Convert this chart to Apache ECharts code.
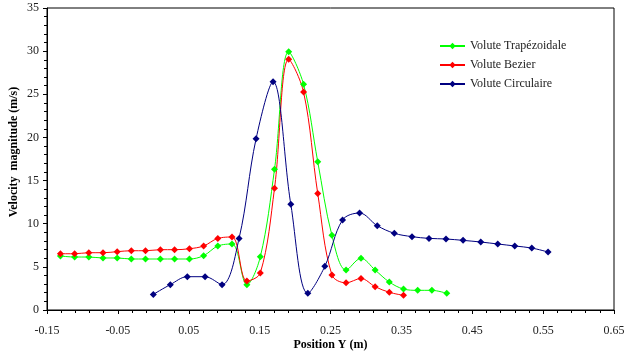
<!DOCTYPE html>
<html lang="fr">
<head>
<meta charset="UTF-8">
<title>Velocity magnitude</title>
<script src="https://cdn.jsdelivr.net/npm/echarts@6/dist/echarts.min.js"></script>
<style>
  html, body { margin: 0; padding: 0; background: #fff; }
</style>
</head>
<body>
<div id="main" style="width: 625px; height: 354px;"></div>
<script type="text/javascript">
// valeurs
var trapX = [-0.131, -0.111, -0.091, -0.071, -0.051, -0.031, -0.011, 0.010, 0.030, 0.051, 0.071, 0.091, 0.111, 0.132, 0.151, 0.171, 0.191, 0.212, 0.232, 0.252, 0.272, 0.293, 0.313, 0.333, 0.353, 0.373, 0.393, 0.414];
var trapY = [6.26, 6.14, 6.14, 6.03, 6.03, 5.91, 5.91, 5.91, 5.91, 5.91, 6.30, 7.42, 7.65, 2.94, 6.18, 16.3, 29.93, 26.15, 17.19, 8.65, 4.63, 5.99, 4.63, 3.24, 2.43, 2.28, 2.28, 1.93];

var bezX = [-0.131, -0.111, -0.091, -0.071, -0.051, -0.031, -0.011, 0.010, 0.030, 0.051, 0.071, 0.091, 0.111, 0.132, 0.151, 0.171, 0.191, 0.212, 0.232, 0.252, 0.272, 0.293, 0.313, 0.333, 0.353];
var bezY = [6.52, 6.52, 6.64, 6.64, 6.76, 6.87, 6.87, 6.99, 6.99, 7.10, 7.42, 8.30, 8.46, 3.36, 4.29, 14.1, 29.05, 25.26, 13.5, 4.07, 3.15, 3.65, 2.70, 2.05, 1.70];

var circX = [0.000, 0.024, 0.048, 0.073, 0.097, 0.121, 0.145, 0.169, 0.194, 0.218, 0.242, 0.267, 0.291, 0.316, 0.340, 0.365, 0.389, 0.413, 0.437, 0.462, 0.486, 0.510, 0.534, 0.557];
var circY = [1.81, 2.94, 3.86, 3.86, 2.94, 8.30, 19.85, 26.45, 12.25, 1.93, 5.06, 10.43, 11.24, 9.77, 8.89, 8.50, 8.30, 8.23, 8.07, 7.88, 7.65, 7.42, 7.18, 6.72];

var names = ['Volute Trapézoidale', 'Volute Bezier', 'Volute Circulaire'];
var colors = ['#00ff00', '#ff0000', '#000080'];

function pairs(xs, ys) {
    var out = [];
    for (var i = 0; i < xs.length; i++) out.push([xs[i], ys[i]]);
    return out;
}

function mkSeries(i, data) {
    return {
        name: names[i],
        type: 'line',
        data: data,
        smooth: 0.35,
        symbol: 'diamond',
        symbolSize: 7,
        color: colors[i],
        lineStyle: { width: 1, color: colors[i] },
        itemStyle: { color: colors[i] },
        animation: false
    };
}

var font = '"Liberation Serif", "Times New Roman", serif';

var myChart = echarts.init(document.getElementById('main'));
var option = {
    backgroundColor: '#fff',
    textStyle: { fontFamily: font },
    grid: {
        left: 47, right: 11, top: 8, bottom: 44,
        outerBoundsMode: 'none',
        containLabel: false,
        show: true, borderColor: '#000', borderWidth: 1
    },
    legend: {
        orient: 'vertical',
        left: 434, top: 35,
        itemWidth: 25, itemHeight: 8, itemGap: 7,
        textStyle: { fontFamily: font, fontSize: 12, color: '#222' },
        data: names
    },
    xAxis: {
        type: 'value',
        min: -0.15, max: 0.65, interval: 0.1,
        name: 'Position Y (m)',
        nameLocation: 'middle',
        nameGap: 29,
        nameMoveOverlap: false,
        nameTextStyle: { fontFamily: font, fontWeight: 'bold', fontSize: 12, color: '#000' },
        axisLine: { onZero: false, lineStyle: { color: '#000', width: 1 } },
        axisTick: { inside: false, length: 4, lineStyle: { color: '#000' } },
        minorTick: { show: true, splitNumber: 5, length: 3, lineStyle: { color: '#000' } },
        splitLine: { show: false },
        axisLabel: {
            margin: 15, fontFamily: font, fontSize: 12, color: '#222',
            formatter: function (v) { return v.toFixed(2); }
        }
    },
    yAxis: {
        type: 'value',
        min: 0, max: 35, interval: 5,
        name: 'Velocity  magnitude (m/s)',
        nameLocation: 'middle',
        nameGap: 27,
        nameMoveOverlap: false,
        nameTextStyle: { fontFamily: font, fontWeight: 'bold', fontSize: 12, color: '#000', padding: [0, 0, 0, 14] },
        axisLine: { show: true, onZero: false, lineStyle: { color: '#000', width: 1 } },
        axisTick: { show: true, inside: false, length: 4, lineStyle: { color: '#000' } },
        minorTick: { show: true, splitNumber: 5, length: 3, lineStyle: { color: '#000' } },
        splitLine: { show: false },
        axisLabel: { margin: 8, fontFamily: font, fontSize: 12, color: '#222' }
    },
    series: [
        mkSeries(0, pairs(trapX, trapY)),
        mkSeries(1, pairs(bezX, bezY)),
        mkSeries(2, pairs(circX, circY))
    ]
};
myChart.setOption(option);
</script>
</body>
</html>
